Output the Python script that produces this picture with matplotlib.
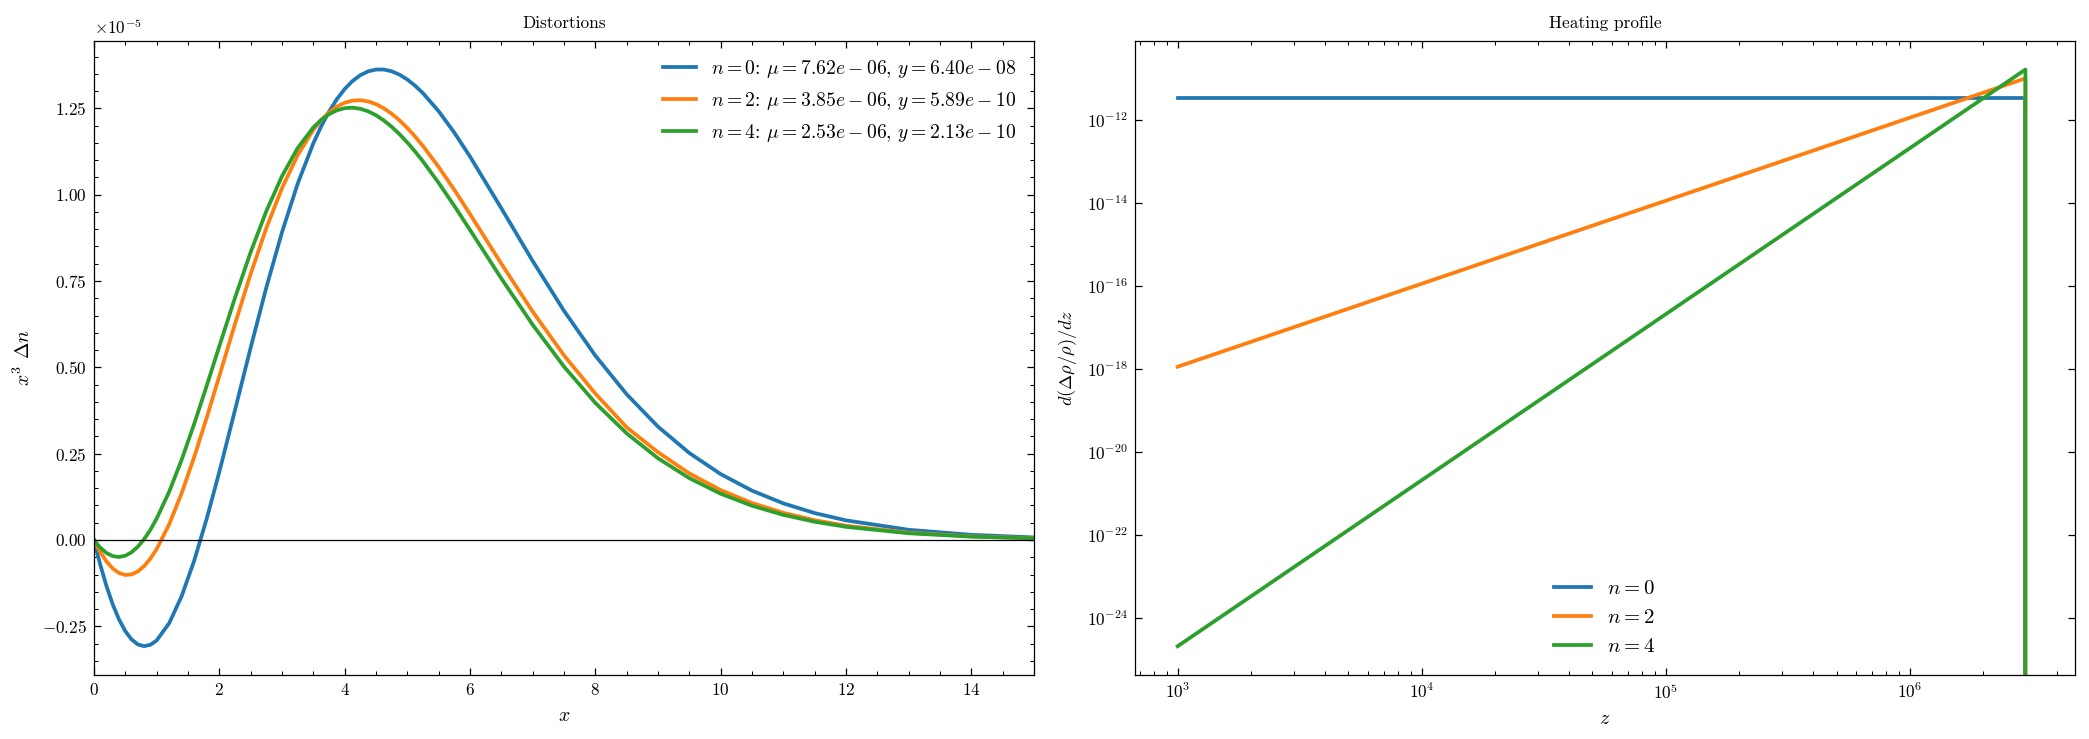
import matplotlib
matplotlib.use("Agg")
import matplotlib.pyplot as plt

# ---------------- data ----------------
# Left panel: x^3 * Delta n (values in units of 1e-5)
x_vals = [0.0, 0.05, 0.1, 0.2, 0.3, 0.4, 0.5, 0.6, 0.7, 0.8, 0.9, 1.0, 1.2, 1.4, 1.6, 1.8,
          2.0, 2.25, 2.5, 2.75, 3.0, 3.25, 3.5, 3.625, 3.75, 3.875, 4.0, 4.125, 4.25,
          4.375, 4.5, 4.625, 4.75, 4.875, 5.0, 5.125, 5.25, 5.5, 5.75, 6.0, 6.5, 7.0,
          7.5, 8.0, 8.5, 9.0, 9.5, 10.0, 10.5, 11.0, 11.5, 12.0, 13.0, 14.0, 15.0]

dist_n0 = [0.0, -0.0370, -0.0717, -0.1341, -0.1871, -0.2305, -0.2641, -0.2881, -0.3025,
           -0.3075, -0.3035, -0.2908, -0.2409, -0.1621, -0.0592, 0.0625, 0.1973, 0.3762,
           0.5571, 0.7312, 0.8913, 1.0317, 1.1487, 1.1977, 1.2403, 1.2763, 1.3058, 1.3290,
           1.3460, 1.3570, 1.3623, 1.3623, 1.3572, 1.3474, 1.3334, 1.3153, 1.2938, 1.2415,
           1.1795, 1.1103, 0.9605, 0.8080, 0.6636, 0.5339, 0.4219, 0.3282, 0.2518, 0.1908,
           0.1429, 0.1060, 0.0779, 0.0568, 0.0295, 0.0149, 0.0074]

dist_n2 = [0.0, -0.0184, -0.0349, -0.0625, -0.0828, -0.0957, -0.1013, -0.0996, -0.0910,
           -0.0757, -0.0540, -0.0263, 0.0456, 0.1360, 0.2407, 0.3551, 0.4749, 0.6257,
           0.7706, 0.9033, 1.0190, 1.1144, 1.1876, 1.2156, 1.2380, 1.2548, 1.2661, 1.2723,
           1.2735, 1.2700, 1.2621, 1.2501, 1.2343, 1.2152, 1.1930, 1.1680, 1.1407, 1.0801,
           1.0138, 0.9437, 0.8001, 0.6613, 0.5346, 0.4240, 0.3261, 0.2541, 0.1927, 0.1444,
           0.1071, 0.0786, 0.0572, 0.0413, 0.0211, 0.0105, 0.0051]

dist_n4 = [0.0, -0.0118, -0.0221, -0.0377, -0.0467, -0.0493, -0.0455, -0.0354, -0.0194,
           0.0024, 0.0296, 0.0619, 0.1399, 0.2329, 0.3368, 0.4475, 0.5612, 0.7014,
           0.8336, 0.9524, 1.0537, 1.1349, 1.1947, 1.2165, 1.2329, 1.2442, 1.2504, 1.2518,
           1.2487, 1.2413, 1.2299, 1.2149, 1.1965, 1.1751, 1.1510, 1.1246, 1.0961, 1.0340,
           0.9673, 0.8978, 0.7573, 0.6232, 0.5020, 0.3969, 0.3087, 0.2366, 0.1790, 0.1339,
           0.0991, 0.0727, 0.0528, 0.0381, 0.0194, 0.0097, 0.0047]

dist_scale = 1e-5

legend_left = [r"$n=0$: $\mu=7.62e-06$, $y=6.40e-08$",
               r"$n=2$: $\mu=3.85e-06$, $y=5.89e-10$",
               r"$n=4$: $\mu=2.53e-06$, $y=2.13e-10$"]

# Right panel: heating profile
z_vals = [1.0e3, 2.97e6, 2.97e6, 3.16e6]
heat_n0 = [3.33e-12, 3.33e-12, 0.0, 0.0]
heat_n2 = [1.11e-18, 9.79e-12, 0.0, 0.0]
heat_n4 = [2.06e-25, 1.60e-11, 0.0, 0.0]
legend_right = [r"$n=0$", r"$n=2$", r"$n=4$"]

colors = ["#1f77b4", "#ff7f0e", "#2ca02c"]

# ---------------- style ----------------
plt.rcParams.update({
    "font.family": "serif",
    "font.serif": ["cmr10"],
    "mathtext.fontset": "cm",
    "axes.formatter.use_mathtext": True,
    "axes.linewidth": 0.6,
    "xtick.direction": "in", "ytick.direction": "in",
    "xtick.top": True, "ytick.right": True,
    "xtick.minor.visible": True, "ytick.minor.visible": True,
    "xtick.major.size": 3.5, "ytick.major.size": 3.5,
    "xtick.minor.size": 1.9, "ytick.minor.size": 1.9,
    "xtick.major.width": 0.6, "ytick.major.width": 0.6,
    "xtick.minor.width": 0.5, "ytick.minor.width": 0.5,
    "xtick.labelsize": 8.2, "ytick.labelsize": 8.2,
    "legend.frameon": False,
    "legend.handlelength": 1.75,
})

W, H, DPI = 2089, 739, 150
fig = plt.figure(figsize=(W / DPI, H / DPI), dpi=DPI)
ax1 = fig.add_axes([94 / W, 64 / H, 940 / W, 634.3 / H])
ax2 = fig.add_axes([1135 / W, 64 / H, 939.7 / W, 634.3 / H])

lw = 1.8
for vals, c, lab in zip([dist_n0, dist_n2, dist_n4], colors, legend_left):
    ax1.plot(x_vals, [v * dist_scale for v in vals], color=c, lw=lw, label=lab)
ax1.axhline(0, color="black", lw=0.6)
ax1.set_xlim(0, 15)
ax1.set_xlabel(r"$x$", fontsize=9.5)
ax1.set_ylabel(r"$x^3$ $\Delta n$", fontsize=9.5)
ax1.set_title("Distortions", fontsize=8.3)
ax1.legend(loc="upper right", fontsize=9.4, handlelength=1.65)
ax1.yaxis.get_offset_text().set_fontsize(8.2)

for vals, c, lab in zip([heat_n0, heat_n2, heat_n4], colors, legend_right):
    ax2.plot(z_vals, vals, color=c, lw=lw, label=lab)
ax2.set_xscale("log")
ax2.set_yscale("log")
ax2.set_xlabel(r"$z$", fontsize=9.5)
ax2.set_ylabel(r"$d(\Delta\rho/\rho)/dz$", fontsize=8.8)
ax2.set_title("Heating profile", fontsize=8.3)
ax2.legend(loc="lower center", fontsize=10)

fig.savefig("out.png", dpi=DPI)
